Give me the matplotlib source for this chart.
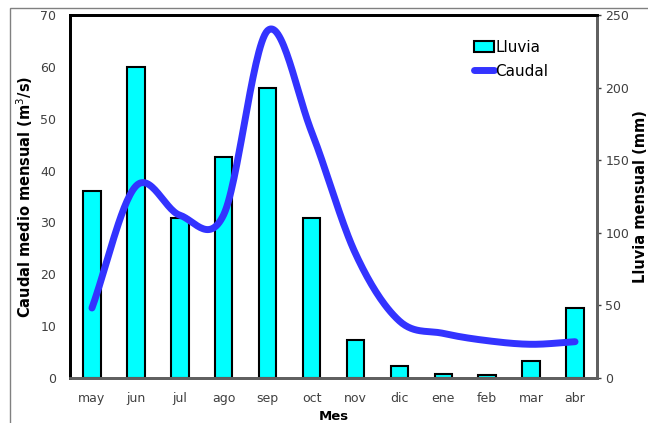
import matplotlib.pyplot as plt
import numpy as np
from matplotlib.patches import Rectangle

meses = ['may', 'jun', 'jul', 'ago', 'sep', 'oct', 'nov', 'dic', 'ene', 'feb', 'mar', 'abr']
lluvia = [129, 214, 110, 152.5, 200, 110, 26.5, 8.5, 3.0, 2.3, 11.8, 48]   # mm
caudal = [13.5, 37.0, 31.4, 31.5, 67.0, 47.5, 24.0, 11.0, 8.6, 7.2, 6.5, 7.0]  # m3/s


def smooth(x, y, n=30):
    # Catmull-Rom curve through the points (like Excel "smoothed line")
    x = np.asarray(x, float)
    y = np.asarray(y, float)
    px = np.concatenate([[2 * x[0] - x[1]], x, [2 * x[-1] - x[-2]]])
    py = np.concatenate([[2 * y[0] - y[1]], y, [2 * y[-1] - y[-2]]])
    xs, ys = [], []
    t = np.linspace(0, 1, n, endpoint=False)
    for i in range(1, len(px) - 2):
        for p, out in ((px, xs), (py, ys)):
            p0, p1, p2, p3 = p[i - 1], p[i], p[i + 1], p[i + 2]
            out.extend(0.5 * (2 * p1 + (-p0 + p2) * t
                              + (2 * p0 - 5 * p1 + 4 * p2 - p3) * t ** 2
                              + (-p0 + 3 * p1 - 3 * p2 + p3) * t ** 3))
    xs.append(x[-1])
    ys.append(y[-1])
    return np.array(xs), np.array(ys)


plt.rcParams['font.family'] = ['DejaVu Sans']
fig = plt.figure(figsize=(6.48, 4.23), dpi=100)
ax = fig.add_axes([70 / 648, 1 - 378 / 423, 527 / 648, 363 / 423])
ax2 = ax.twinx()

# chart area border
fig.patches.append(Rectangle((10 / 648, -0.1), 1.1, 1 - 8 / 423 + 0.1, transform=fig.transFigure,
                             fill=False, edgecolor='#808080', lw=1))

x = np.arange(len(meses))
bars = ax2.bar(x, lluvia, width=0.4, color='#00FFFF', edgecolor='black', lw=1.5, label='Lluvia')
sx, sy = smooth(x, caudal)
line, = ax.plot(sx, sy, color='#3333FF', lw=5, solid_capstyle='round', label='Caudal')

ax.set_zorder(ax2.get_zorder() + 1)
ax.patch.set_visible(False)

ax.set_xlim(-0.5, 11.5)
ax.set_ylim(0, 70)
ax2.set_ylim(0, 250)
ax.set_yticks(range(0, 71, 10))
ax2.set_yticks(range(0, 251, 50))
ax.set_xticks(x)
ax.set_xticklabels(meses)

for a in (ax, ax2):
    a.tick_params(colors='#404040', labelsize=9, length=3, width=1)
    for s in a.spines.values():
        s.set_linewidth(2)
        s.set_color('black')
ax.tick_params(axis='x', length=0, pad=10)
ax.tick_params(axis='y', length=0, pad=10)
ax2.tick_params(axis='y', pad=3)
for a in (ax, ax2):
    a.spines['bottom'].set_color('#606060')
    a.spines['right'].set_color('#606060')

ax.set_xlabel('Mes', fontweight='bold', fontsize=9.5, labelpad=4)
ax.set_ylabel('Caudal medio mensual (m$^3$/s)', fontweight='bold', fontsize=10.5, labelpad=4)
ax2.set_ylabel('Lluvia mensual (mm)', fontweight='bold', fontsize=10.5, labelpad=3)

ax.legend([bars, line], ['Lluvia', 'Caudal'], loc='upper left', bbox_to_anchor=(0.74, 0.97),
          frameon=False, fontsize=11, handlelength=1.3, handletextpad=0.1, labelspacing=0.6)

fig.savefig('out.png', dpi=100)
